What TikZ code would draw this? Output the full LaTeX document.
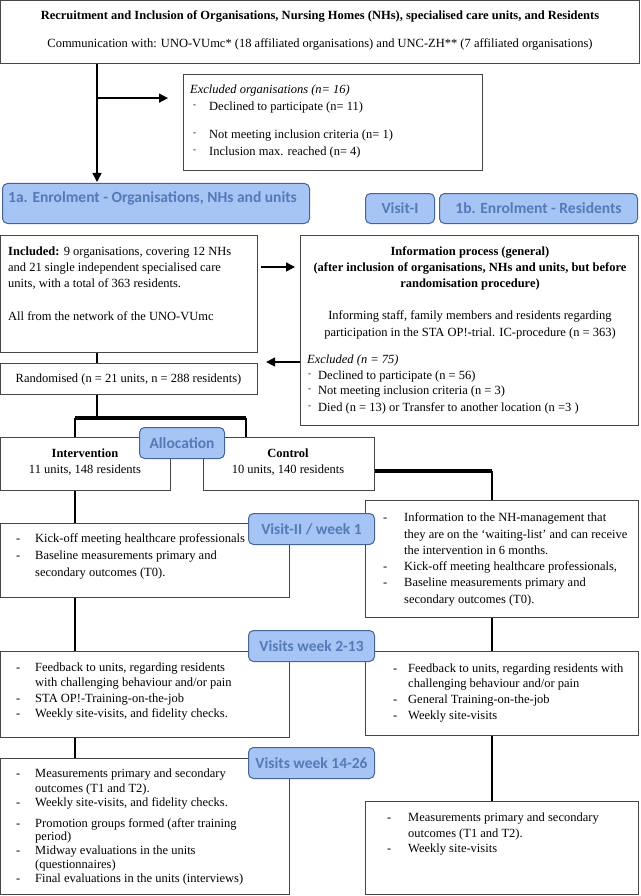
\documentclass[tikz,border=0pt]{standalone}
\usepackage{fontspec}
\setmainfont{Liberation Serif}
\newfontfamily\labfont{Carlito}
\usetikzlibrary{arrows.meta}
\definecolor{boxgray}{RGB}{70,70,70}
\definecolor{labfill}{RGB}{166,196,244}
\definecolor{labdraw}{RGB}{70,100,150}
\definecolor{labtext}{RGB}{84,122,184}
\newcommand\bodysize{\fontsize{12.5pt}{15pt}\selectfont}
\newcommand\bl[2]{\makebox[#1pt][l]{-}#2}
\newcommand\sbl[2]{\makebox[#1pt][l]{\raisebox{3pt}{\fontsize{9pt}{9pt}\selectfont -}}#2}
\tikzset{
  box/.style={draw=boxgray, line width=1.1pt, rectangle, anchor=north west, inner sep=0pt},
  lab/.style={draw=labdraw, fill=labfill, rounded corners=5pt, line width=1pt, anchor=north west, inner sep=0pt, text=labtext, font=\labfont\bfseries\fontsize{15.5pt}{17pt}\selectfont},
  labtxt/.style={inner sep=0pt, text=labtext, font=\labfont\bfseries\fontsize{15.5pt}{17pt}\selectfont},
  txt/.style={font=\bodysize, inner sep=0pt, anchor=base west},
  ctxt/.style={txt, anchor=base},
  conn/.style={line width=1.4pt, black},
  bar/.style={line width=4pt, black},
  arr/.style={conn, -{Triangle[length=9pt,width=9pt]}}
}
\begin{document}
\begin{tikzpicture}[x=1pt,y=-1pt]
\useasboundingbox (0,0) rectangle (640,896);
% ---------- boxes
\node[box, minimum width=639pt, minimum height=63pt] (top) at (0,0) {};
\node[box, minimum width=299pt, minimum height=96pt] (excl) at (183,74) {};
\node[box, minimum width=257pt, minimum height=117pt] (incl) at (0,235) {};
\node[box, minimum width=338pt, minimum height=190pt] (info) at (300,235) {};
\node[box, minimum width=257pt, minimum height=31pt] (rand) at (0,363) {};
\node[box, minimum width=170pt, minimum height=53pt] (intv) at (0,437) {};
\node[box, minimum width=171pt, minimum height=53pt] (ctrl) at (203,437) {};
\node[box, minimum width=289pt, minimum height=74pt] (v2i) at (0,523) {};
\node[box, minimum width=273pt, minimum height=117pt] (v2c) at (365,500) {};
\node[box, minimum width=289pt, minimum height=86pt] (v3i) at (0,651) {};
\node[box, minimum width=273pt, minimum height=84pt] (v3c) at (365,651) {};
\node[box, minimum width=289pt, minimum height=136pt] (v4i) at (0,758) {};
\node[box, minimum width=273pt, minimum height=93pt] (v4c) at (365,801) {};
% ---------- labels
\node[lab, minimum width=307pt, minimum height=40pt] (en1a) at (2,183) {};
\node[labtxt, anchor=base west] (en1at) at (8,203) {1a. Enrolment - Organisations, NHs and units};
\node[lab, minimum width=69pt, minimum height=30pt] (v1) at (365,193) {Visit-I};
\node[lab, minimum width=198pt, minimum height=30pt] (en1b) at (439,193) {1b. Enrolment - Residents};
\node[lab, minimum width=85pt, minimum height=31pt] (alloc) at (139,427) {Allocation};
\node[lab, minimum width=126pt, minimum height=31pt] (v2l) at (248,513) {Visit-II / week 1};
\node[lab, minimum width=126pt, minimum height=31pt] (v3l) at (248,630) {Visits week 2-13};
\node[lab, minimum width=126pt, minimum height=31pt] (v4l) at (248,747) {Visits week 14-26};
% ---------- connectors
\draw[arr] ([xshift=97pt]top.south west) -- ([xshift=95pt,yshift=1pt]en1a.north west);
\coordinate (j1) at ([xshift=97pt,yshift=-34pt]top.south west);
\draw[arr, shorten >=15pt] (j1) -- (j1 -| excl.west);
\coordinate (a2) at ([yshift=-32pt]incl.north east);
\draw[arr, shorten <=3pt, shorten >=5pt] (a2) -- (a2 -| info.west);
\coordinate (a3) at ([yshift=-127pt]info.north west);
\draw[arr, shorten >=8pt] (a3) -- (a3 -| rand.east);
\draw[conn] ([xshift=97pt]incl.south west) -- ([xshift=97pt]rand.north west);
\coordinate (b1L) at (75,418);
\coordinate (b1R) at (246,418);
\draw[conn] ([xshift=97pt]rand.south west) -- ([xshift=97pt]rand.south west |- b1L);
\draw[bar] (b1L) -- (b1R);
\draw[conn] (b1L) -- (b1L |- intv.north);
\draw[conn] (b1R) -- (b1R |- ctrl.north);
\coordinate (b2L) at ([yshift=-34pt]ctrl.north east);
\coordinate (b2R) at (492,471);
\draw[bar] (b2L) -- (b2R);
\draw[conn] (b2R) -- (b2R |- v2c.north);
\draw[conn] ([xshift=75pt]intv.south west) -- ([xshift=75pt]v2i.north west);
\draw[conn] ([xshift=75pt]v2i.south west) -- ([xshift=75pt]v3i.north west);
\draw[conn] ([xshift=75pt]v3i.south west) -- ([xshift=75pt]v4i.north west);
\draw[conn] ([xshift=127pt]v2c.south west) -- ([xshift=127pt]v3c.north west);
\draw[conn] ([xshift=127pt]v3c.south west) -- ([xshift=127pt]v4c.north west);
% ---------- texts
\node[ctxt, font=\bodysize\bfseries] (title) at (320,20) {Recruitment and Inclusion of Organisations, Nursing Homes (NHs), specialised care units, and Residents};
\node[ctxt] (comm) at (320,48) {Communication with: UNO-VUmc* (18 affiliated organisations) and UNC-ZH** (7 affiliated organisations)};
\node[txt, font=\bodysize\itshape] (ex0) at (190,94) {Excluded organisations (n= 16)};
\node[txt] (ex1) at (193,111) {\sbl{16}{Declined to participate (n= 11)}};
\node[txt] (ex2) at (193,139) {\sbl{16}{Not meeting inclusion criteria (n= 1)}};
\node[txt] (ex3) at (193,156) {\sbl{16}{Inclusion max. reached (n= 4)}};
\node[txt] (in1) at (8,255) {\textbf{Included:} 9 organisations, covering 12 NHs};
\node[txt] (in2) at (8,271) {and 21 single independent specialised care};
\node[txt] (in3) at (8,287) {units, with a total of 363 residents.};
\node[txt] (in4) at (8,320) {All from the network of the UNO-VUmc};
\node[ctxt, font=\bodysize\bfseries] (if1) at (470,255) {Information process (general)};
\node[ctxt, font=\bodysize\bfseries] (if2) at (470,271) {(after inclusion of organisations, NHs and units, but before};
\node[ctxt, font=\bodysize\bfseries] (if3) at (470,287) {randomisation procedure)};
\node[ctxt] (if4) at (470,319) {Informing staff, family members and residents regarding};
\node[ctxt] (if5) at (470,336) {participation in the STA OP!-trial. IC-procedure (n = 363)};
\node[txt, font=\bodysize\itshape] (ix0) at (307,363) {Excluded (n = 75)};
\node[txt] (ix1) at (308,379) {\sbl{10}{Declined to participate (n = 56)}};
\node[txt] (ix2) at (308,394) {\sbl{10}{Not meeting inclusion criteria (n = 3)}};
\node[txt] (ix3) at (308,411) {\sbl{10}{Died (n = 13) or Transfer to another location (n =3 )}};
\node[ctxt] (rnd) at (128.5,382) {Randomised (n = 21 units, n = 288 residents)};
\node[ctxt, font=\bodysize\bfseries] (it1) at (85,457) {Intervention};
\node[ctxt] (it2) at (85,473) {11 units, 148 residents};
\node[ctxt, font=\bodysize\bfseries] (ct1) at (288,457) {Control};
\node[ctxt] (ct2) at (288,473) {10 units, 140 residents};
% visit II
\node[txt] (a1) at (16,542) {\bl{19}{Kick-off meeting healthcare professionals}};
\node[txt] (a2t) at (16,559) {\bl{19}{Baseline measurements primary and}};
\node[txt] (a3t) at (35,576) {secondary outcomes (T0).};
\node[txt] (c1) at (383,521) {\bl{21}{Information to the NH-management that}};
\node[txt] (c2) at (404,538) {they are on the ‘waiting-list’ and can receive};
\node[txt] (c3) at (404,554) {the intervention in 6 months.};
\node[txt] (c4) at (383,570) {\bl{21}{Kick-off meeting healthcare professionals,}};
\node[txt] (c5) at (383,586) {\bl{21}{Baseline measurements primary and}};
\node[txt] (c6) at (404,603) {secondary outcomes (T0).};
% visits 2-13
\node[txt] (d1) at (16,671) {\bl{19}{Feedback to units, regarding residents}};
\node[txt] (d2) at (35,686) {with challenging behaviour and/or pain};
\node[txt] (d3) at (16,702) {\bl{19}{STA OP!-Training-on-the-job}};
\node[txt] (d4) at (16,717) {\bl{19}{Weekly site-visits, and fidelity checks.}};
\node[txt] (e1) at (393,672) {\bl{15}{Feedback to units, regarding residents with}};
\node[txt] (e2) at (408,687) {challenging behaviour and/or pain};
\node[txt] (e3) at (393,703) {\bl{15}{General Training-on-the-job}};
\node[txt] (e4) at (393,719) {\bl{15}{Weekly site-visits}};
% visits 14-26
\node[txt] (f1) at (16,777) {\bl{19}{Measurements primary and secondary}};
\node[txt] (f2) at (35,792) {outcomes (T1 and T2).};
\node[txt] (f3) at (16,806) {\bl{19}{Weekly site-visits, and fidelity checks.}};
\node[txt] (f4) at (16,827) {\bl{19}{Promotion groups formed (after training}};
\node[txt] (f5) at (35,840) {period)};
\node[txt] (f6) at (16,854) {\bl{19}{Midway evaluations in the units}};
\node[txt] (f7) at (35,868) {(questionnaires)};
\node[txt] (f8) at (16,882) {\bl{19}{Final evaluations in the units (interviews)}};
\node[txt] (g1) at (387,821) {\bl{21}{Measurements primary and secondary}};
\node[txt] (g2) at (408,837) {outcomes (T1 and T2).};
\node[txt] (g3) at (387,852) {\bl{21}{Weekly site-visits}};
\end{tikzpicture}
\end{document}
